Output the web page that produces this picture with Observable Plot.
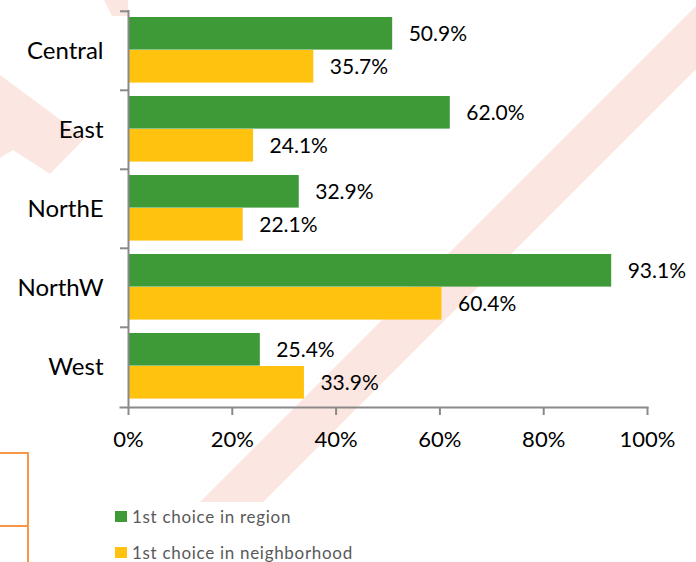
<!DOCTYPE html>
<html>
<head>
<meta charset="utf-8">
<script src="https://cdn.jsdelivr.net/npm/d3@7"></script>
<script src="https://cdn.jsdelivr.net/npm/@observablehq/plot@0.6"></script>
<style>
  html, body { margin: 0; padding: 0; background: #ffffff; }
  #wrap { position: relative; width: 696px; height: 562px; overflow: hidden; background: #ffffff; font-family: Lato, "Open Sans", sans-serif; }
  #deco { position: absolute; left: 0; top: 0; }
  #chart { position: absolute; left: 0; top: 0; }
  .legend-item { position: absolute; left: 115px; display: flex; align-items: center; font-size: 17px; letter-spacing: 0.7px; color: #595959; }
  .legend-item .sw { width: 12px; height: 11px; margin-right: 5px; }
</style>
</head>
<body>
<div id="wrap">
  <svg id="deco" width="696" height="562">
    <polygon points="702,0 765,0 263,502 200,502" fill="#fbe6e1"/>
    <polygon points="0,75 85,138 50,174 13,150 0,158" fill="#fbe6e1"/>
    <polygon points="104,0 128,0 128,16 112,16" fill="#fbe6e1"/>
    <g stroke="#f79646" stroke-width="2" fill="none">
      <line x1="28" y1="452" x2="28" y2="562"/>
      <line x1="0" y1="453" x2="28" y2="453"/>
      <line x1="0" y1="526" x2="28" y2="526"/>
    </g>
  </svg>
  <div id="chart"></div>
  <div id="legend"></div>
</div>
<script>
// ---- data ----
const regions = ["Central", "East", "NorthE", "NorthW", "West"];
const regionShare = [50.9, 62.0, 32.9, 93.1, 25.4];          // 1st choice in region (%)
const neighborhoodShare = [35.7, 24.1, 22.1, 60.4, 33.9];    // 1st choice in neighborhood (%)
const xTicks = [0, 20, 40, 60, 80, 100];
const seriesNames = ["1st choice in region", "1st choice in neighborhood"];

// ---- styles ----
const GREEN = "#3d9a37";
const YELLOW = "#ffc20f";
const AXIS = "#8a8a8a";
const FONT = "Lato, 'Open Sans', sans-serif";

const rows = regions.map((r, i) => ({region: r, inRegion: regionShare[i], inNeighborhood: neighborhoodShare[i]}));
const fmt = v => v.toFixed(1) + "%";

const chart = Plot.plot({
  width: 696,
  height: 470,
  marginLeft: 120,
  marginRight: 49,
  marginTop: 10,
  marginBottom: 63,
  style: {fontFamily: FONT, background: "transparent", color: "black"},
  x: {domain: [0, 100], insetLeft: 8, label: null},
  y: {domain: regions, paddingInner: 0, paddingOuter: 0, label: null},
  marks: [
    Plot.barX(rows, {y: "region", x: "inRegion", fill: GREEN, insetTop: 6, insetBottom: 40.4}),
    Plot.barX(rows, {y: "region", x: "inNeighborhood", fill: YELLOW, insetTop: 39, insetBottom: 7.4}),
    Plot.text(rows, {y: "region", x: "inRegion", text: d => fmt(d.inRegion), textAnchor: "start", dx: 16, dy: -17.2, fontSize: 21, fill: "black"}),
    Plot.text(rows, {y: "region", x: "inNeighborhood", text: d => fmt(d.inNeighborhood), textAnchor: "start", dx: 16, dy: 15.8, fontSize: 21, fill: "black"}),
    Plot.ruleX([0], {stroke: AXIS, strokeWidth: 2}),
    Plot.frame({anchor: "bottom", stroke: AXIS, strokeWidth: 2}),
    Plot.axisY({tickSize: 8, tickFormat: () => "", label: null, dx: 8, dy: -39.7, stroke: AXIS, strokeWidth: 2, strokeOpacity: 1}),
    Plot.axisY({tickSize: 0, tickPadding: 17, fontSize: 24, fill: "black", label: null}),
    Plot.axisX({ticks: xTicks, tickFormat: d => d + "%", label: null, tickSize: 8, tickPadding: 16, fontSize: 22, stroke: AXIS, strokeWidth: 2, strokeOpacity: 1, fill: "black"})
  ]
});
document.getElementById("chart").appendChild(chart);

// ---- legend ----
const legend = document.getElementById("legend");
const legendColors = [GREEN, YELLOW];
const legendTops = [506, 542];
seriesNames.forEach((name, i) => {
  const item = document.createElement("div");
  item.className = "legend-item";
  item.style.top = legendTops[i] + "px";
  const sw = document.createElement("span");
  sw.className = "sw";
  sw.style.background = legendColors[i];
  const label = document.createElement("span");
  label.textContent = name;
  item.appendChild(sw);
  item.appendChild(label);
  legend.appendChild(item);
});
</script>
</body>
</html>
